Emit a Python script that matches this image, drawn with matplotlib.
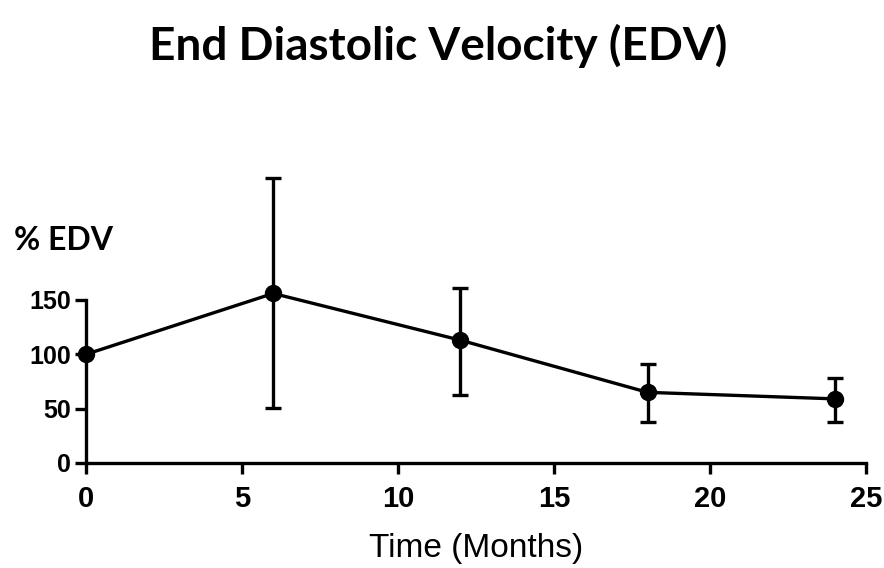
import matplotlib.pyplot as plt

months = [0, 6, 12, 18, 24]
edv_pct = [100, 156, 113, 65, 59]
err_low = [100, 51, 63, 38, 38]
err_high = [100, 262, 161, 91, 78]

x_ticks = [0, 5, 10, 15, 20, 25]
y_ticks = [0, 50, 100, 150]

lower = [m - lo for m, lo in zip(edv_pct, err_low)]
upper = [hi - m for m, hi in zip(edv_pct, err_high)]

fig = plt.figure(figsize=(8.84, 5.68), dpi=100)
# axes box in figure pixels: x 86..866, y 163..463
ax = fig.add_axes([86 / 884, 1 - 463 / 568, 780 / 884, 300 / 568])

ax.errorbar(months, edv_pct, yerr=[lower, upper], color="black",
            linewidth=2.4, marker="o", markersize=11.5, elinewidth=2.4,
            capsize=6, capthick=2.4, clip_on=False, zorder=3)

ax.set_xlim(0, 25)
ax.set_ylim(0, 276)
ax.set_xticks(x_ticks)
ax.set_yticks(y_ticks)
ax.spines["left"].set_bounds(0, 150)
for side in ["top", "right"]:
    ax.spines[side].set_visible(False)
for side in ["left", "bottom"]:
    ax.spines[side].set_linewidth(2.4)
ax.tick_params(width=2.4, length=8)
ax.tick_params(axis="x", labelsize=21, pad=8)
ax.tick_params(axis="y", labelsize=18, pad=3)
for lbl in ax.get_xticklabels() + ax.get_yticklabels():
    lbl.set_fontweight("bold")
    lbl.set_fontfamily("Liberation Sans")

ax.set_xlabel("Time (Months)", fontsize=24, fontfamily="Liberation Sans",
              labelpad=14)

fig.text(0.496, 0.92, "End Diastolic Velocity (EDV)", ha="center",
         va="center", fontsize=33, fontweight="bold", fontfamily="Lato")
fig.text(0.016, 0.577, "% EDV", ha="left", va="center", fontsize=23,
         fontweight="bold", fontfamily="Lato")

fig.savefig("out.png", dpi=100)
